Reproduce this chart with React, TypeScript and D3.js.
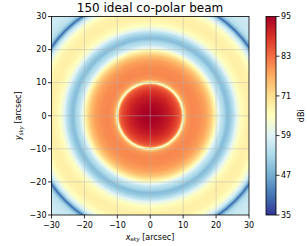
import * as d3 from "d3"

// radial gain profile (distance from beam centre, arcsec -> dBi)
const radiusArcsec = [0, 2, 4, 6, 8, 9, 9.6, 10.1, 10.6, 11.3, 13, 15, 17, 18.5, 19.5, 20.5, 21.5, 22.5, 23.5, 24.5, 25.5, 26.5, 28, 30, 32, 33.5, 34.5, 35.5, 36.2, 36.6, 37, 37.8, 39, 41, 43]
const gainDbi = [95, 94.5, 93, 91, 87.5, 85, 81, 60, 74, 79, 80.5, 80, 78, 74, 69, 62, 56, 53, 49, 51, 55, 61, 66, 68, 67.5, 65, 61, 55, 47, 39, 47, 54, 56, 57, 57]

const axisTicks = [-30, -20, -10, 0, 10, 20, 30]
const gridTicks = [-20, -10, 0, 10, 20]
const cbarTicks = [35, 47, 59, 71, 83, 95]
// matplotlib RdYlBu_r control colours
const cmapColors = ["#313695", "#4575b4", "#74add1", "#abd9e9", "#e0f3f8", "#ffffbf", "#fee090", "#fdae61", "#f46d43", "#d73027", "#a50026"]

const W = 307
const H = 246
const font = "DejaVu Sans, sans-serif"

export default function App() {
  const x = d3.scaleLinear().domain([-30, 30]).range([51.5, 249])
  const y = d3.scaleLinear().domain([-30, 30]).range([215, 16.5])
  const cy = d3.scaleLinear().domain([35, 95]).range([215, 16.5])

  const color = d3
    .scaleLinear<string>()
    .domain(d3.range(11).map((i) => 35 + i * 6))
    .range(cmapColors)
    .interpolate(d3.interpolateRgb)
    .clamp(true)

  const profile = d3.scaleLinear().domain(radiusArcsec).range(gainDbi).clamp(true)

  // concentric rings, largest first
  const rings = d3.range(43, 0, -0.15)
  const cx0 = x(0)
  const cy0 = y(0)
  const pxPerArcsec = x(1) - x(0)

  const stops = d3.range(0, 1.0001, 0.02)
  const cbX = 266
  const cbW = 10

  return (
    <svg width={W} height={H} style={{ position: "absolute", left: 0, top: 0 }} fontFamily={font}>
      <defs>
        <clipPath id="plot-clip">
          <rect x={x(-30)} y={y(30)} width={x(30) - x(-30)} height={y(-30) - y(30)} />
        </clipPath>
        <linearGradient id="cbar-grad" x1="0" y1="1" x2="0" y2="0">
          {stops.map((t) => (
            <stop key={t} offset={t} stopColor={color(35 + t * 60)} />
          ))}
        </linearGradient>
      </defs>

      <text x={150} y={12} fontSize={12} textAnchor="middle" fill="#000">
        150 ideal co-polar beam
      </text>

      <g clipPath="url(#plot-clip)">
        {rings.map((r) => (
          <circle key={r} cx={cx0} cy={cy0} r={r * pxPerArcsec} fill={color(profile(r))} />
        ))}
        {gridTicks.map((t) => (
          <g key={t} stroke="#b0b0b0" strokeOpacity={0.55} strokeWidth={0.8}>
            <line x1={x(t)} x2={x(t)} y1={y(-30)} y2={y(30)} />
            <line x1={x(-30)} x2={x(30)} y1={y(t)} y2={y(t)} />
          </g>
        ))}
      </g>

      <rect x={x(-30)} y={y(30)} width={x(30) - x(-30)} height={y(-30) - y(30)} fill="none" stroke="#000" strokeWidth={0.8} />

      {axisTicks.map((t) => (
        <g key={"x" + t} fontSize={8} fill="#000">
          <line x1={x(t)} x2={x(t)} y1={y(-30)} y2={y(-30) + 3.5} stroke="#000" strokeWidth={0.8} />
          <text x={x(t)} y={y(-30) + 12.5} textAnchor="middle">
            {t < 0 ? "\u2212" + Math.abs(t) : t}
          </text>
          <line x1={x(-30) - 3.5} x2={x(-30)} y1={y(t)} y2={y(t)} stroke="#000" strokeWidth={0.8} />
          <text x={x(-30) - 5} y={y(t)} dy="0.35em" textAnchor="end">
            {t < 0 ? "\u2212" + Math.abs(t) : t}
          </text>
        </g>
      ))}

      <text x={150} y={239.5} fontSize={8} textAnchor="middle" fill="#000">
        <tspan fontStyle="italic">x</tspan>
        <tspan fontStyle="italic" fontSize={5.5} dy={1.5}>sky</tspan>
        <tspan dy={-1.5}> [arcsec]</tspan>
      </text>
      <text transform={`translate(21,${y(0)}) rotate(-90)`} fontSize={8} textAnchor="middle" fill="#000">
        <tspan fontStyle="italic">y</tspan>
        <tspan fontStyle="italic" fontSize={5.5} dy={1.5}>sky</tspan>
        <tspan dy={-1.5}> [arcsec]</tspan>
      </text>

      <rect x={cbX} y={cy(95)} width={cbW} height={cy(35) - cy(95)} fill="url(#cbar-grad)" stroke="#000" strokeWidth={0.8} />
      {cbarTicks.map((t) => (
        <g key={"c" + t}>
          <line x1={cbX + cbW} x2={cbX + cbW + 3.5} y1={cy(t)} y2={cy(t)} stroke="#000" strokeWidth={0.8} />
          <text x={cbX + cbW + 5} y={cy(t)} dy="0.35em" fontSize={8} fill="#000">
            {t}
          </text>
        </g>
      ))}
      <text transform={`translate(301,${y(0)}) rotate(-90)`} fontSize={8} textAnchor="middle" dy="0.35em" fill="#000">
        dBi
      </text>
    </svg>
  )
}
